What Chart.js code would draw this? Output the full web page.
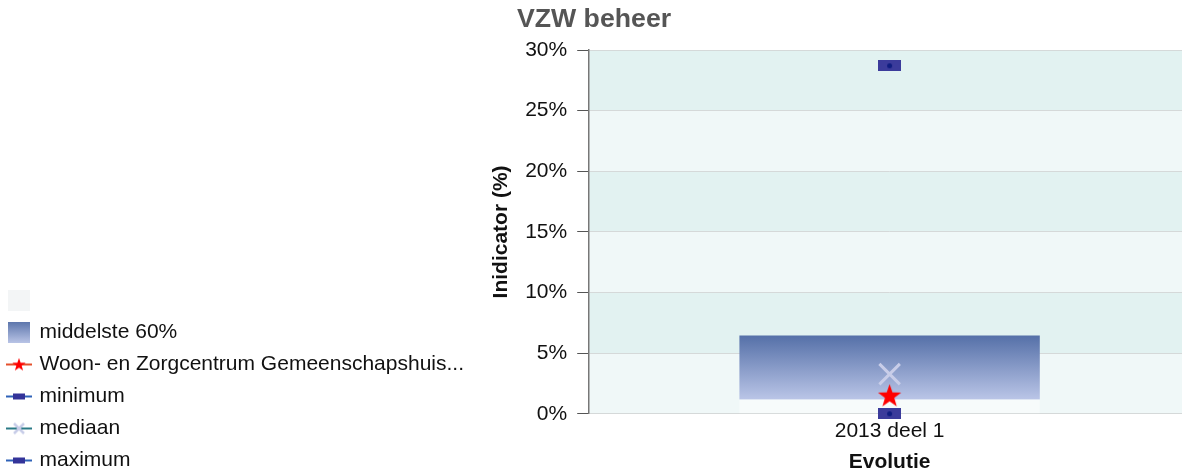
<!DOCTYPE html>
<html><head><meta charset="utf-8">
<script src="https://cdn.jsdelivr.net/npm/chart.js@4.4.1/dist/chart.umd.min.js"></script>
<style>html,body{margin:0;padding:0;overflow:hidden;background:#fff}#c{display:block}</style>
</head><body><canvas id="c" width="1190" height="470"></canvas>
<script>
const chartTitle = 'VZW beheer';
const categories = ['2013 deel 1'];
const baseRange = [[0, 1.18]];
const middle60 = [[1.18, 6.45]];
const facility = [1.5];
const minimum = [0];
const median = [3.27];
const maximum = [28.7];
const seriesNames = ['', 'middelste 60%', 'Woon- en Zorgcentrum Gemeenschapshuis...', 'minimum', 'mediaan', 'maximum'];
const yTickStep = 5, yMin = 0, yMax = 30;

Chart.defaults.font.family = "'Liberation Sans', Arial, sans-serif";

function makeCanvas(w, h, draw) { const c = document.createElement('canvas'); c.width = w; c.height = h; draw(c.getContext('2d'), w, h); return c; }
function starPath(ctx, cx, cy, R, r) { ctx.beginPath(); for (let i = 0; i < 10; i++) { const a = -Math.PI / 2 + i * Math.PI / 5; const rad = i % 2 ? r : R; ctx.lineTo(cx + rad * Math.cos(a), cy + rad * Math.sin(a)); } ctx.closePath(); }

const rectImg = makeCanvas(23, 11, (c, w, h) => { c.fillStyle = '#3b3b9b'; c.fillRect(0, 0, w, h); c.fillStyle = '#0f1d80'; c.beginPath(); c.arc(w / 2, h / 2, 2.5, 0, Math.PI * 2); c.fill(); });
const starImg = makeCanvas(25, 24, (c) => { c.fillStyle = '#ff0000'; starPath(c, 12.5, 12.8, 12.2, 4.9); c.fill(); });

const legBase = makeCanvas(22, 21, (c, w, h) => { c.fillStyle = '#f3f5f6'; c.fillRect(0, 0, w, h); });
const legMid = makeCanvas(22, 21, (c, w, h) => { const g = c.createLinearGradient(0, 0, 0, h); g.addColorStop(0, '#5d76ac'); g.addColorStop(1, '#b9c4e6'); c.fillStyle = g; c.fillRect(0, 0, w, h); });
const legStar = makeCanvas(26, 14, (c, w, h) => { c.strokeStyle = '#e4502c'; c.lineWidth = 2; c.beginPath(); c.moveTo(0, 7); c.lineTo(w, 7); c.stroke(); c.fillStyle = '#ff0000'; starPath(c, 13, 7.4, 7, 2.8); c.fill(); });
const legRect = makeCanvas(26, 10, (c, w, h) => { c.strokeStyle = '#2f62b8'; c.lineWidth = 2; c.beginPath(); c.moveTo(0, 5); c.lineTo(w, 5); c.stroke(); c.fillStyle = '#333399'; c.fillRect(7, 2, 12, 6); });
const legMed = makeCanvas(26, 14, (c, w, h) => { c.strokeStyle = '#2b7a86'; c.lineWidth = 2; c.beginPath(); c.moveTo(0, 7); c.lineTo(w, 7); c.stroke(); c.strokeStyle = '#c8cde8'; c.lineWidth = 2.5; c.beginPath(); c.moveTo(8, 2); c.lineTo(18, 12); c.moveTo(18, 2); c.lineTo(8, 12); c.stroke(); });
const legendImgs = [legBase, legMid, legStar, legRect, legMed, legRect];

const bandsPlugin = {
  id: 'bands',
  beforeDraw(chart) {
    const { ctx, chartArea: a, scales: { y } } = chart;
    ctx.save();
    ctx.fillStyle = '#ffffff';
    ctx.fillRect(0, 0, chart.width, chart.height);
    for (let v = yMin, i = 0; v < yMax; v += yTickStep, i++) {
      const top = y.getPixelForValue(v + yTickStep), bot = y.getPixelForValue(v);
      ctx.fillStyle = i % 2 === 0 ? '#f0f8f8' : '#e2f2f1';
      ctx.fillRect(a.left, top, a.right - a.left, bot - top);
    }
    ctx.restore();
  }
};

new Chart(document.getElementById('c'), {
  type: 'bar',
  data: {
    labels: categories,
    datasets: [
      { label: seriesNames[0], data: baseRange, backgroundColor: 'rgba(255,255,255,0.45)', borderWidth: 0, grouped: false, order: 10, barPercentage: 0.5, categoryPercentage: 1 },
      { label: seriesNames[1], data: middle60, grouped: false, order: 10, barPercentage: 0.5, categoryPercentage: 1, borderWidth: 0,
        backgroundColor: (ctx) => {
          const chart = ctx.chart, y = chart.scales.y;
          if (!y || !chart.chartArea || !ctx.raw) return '#8fa0cc';
          const top = y.getPixelForValue(ctx.raw[1]), bot = y.getPixelForValue(ctx.raw[0]);
          const g = chart.ctx.createLinearGradient(0, top, 0, bot);
          g.addColorStop(0, '#5570a8'); g.addColorStop(1, '#bac5e7'); return g;
        } },
      { type: 'line', label: seriesNames[2], data: facility, showLine: false, clip: false, pointStyle: starImg, pointRadius: 12, order: 1 },
      { type: 'line', label: seriesNames[3], data: minimum, showLine: false, clip: false, pointStyle: rectImg, pointRadius: 11, order: 2 },
      { type: 'line', label: seriesNames[4], data: median, showLine: false, clip: false, pointStyle: 'crossRot', pointRadius: 14.5, borderWidth: 3, borderColor: '#c8cde8', backgroundColor: '#c8cde8', order: 3 },
      { type: 'line', label: seriesNames[5], data: maximum, showLine: false, clip: false, pointStyle: rectImg, pointRadius: 11, order: 2 }
    ]
  },
  options: {
    responsive: false, animation: false,
    layout: { autoPadding: false, padding: { left: -2, bottom: -12, top: 0, right: 0 } },
    plugins: {
      title: { display: true, text: chartTitle, color: '#555', font: { size: 26.7, weight: 'bold' }, padding: { top: 4, bottom: 14 } },
      tooltip: { enabled: false },
      legend: {
        position: 'left', align: 'end', onClick: null, maxWidth: 520,
        labels: {
          usePointStyle: true, pointStyleWidth: 20, boxHeight: 21, padding: 11, color: '#111', font: { size: 21 },
          generateLabels: (chart) => seriesNames.map((n, i) => ({ text: n, pointStyle: legendImgs[i], fillStyle: 'transparent', strokeStyle: 'transparent', lineWidth: 0, hidden: false, datasetIndex: i, fontColor: '#111' }))
        }
      }
    },
    scales: {
      x: {
        offset: true,
        grid: { display: false, drawTicks: false, tickLength: 0 }, border: { display: false },
        ticks: { color: '#111', font: { size: 21 }, padding: 5 },
        title: { display: true, text: 'Evolutie', color: '#111', font: { size: 21, weight: 'bold', lineHeight: 1 }, padding: { top: 3, bottom: 9 } }
      },
      y: {
        min: yMin, max: yMax,
        grid: { color: '#d5d9d9', tickColor: '#555', tickLength: 12, lineWidth: 1 },
        border: { color: '#777', width: 1.5 },
        ticks: { stepSize: yTickStep, color: '#111', font: { size: 21 }, padding: 10, callback: (v) => v + '%' },
        title: { display: true, text: 'Inidicator (%)', color: '#111', font: { size: 21, weight: 'bold' }, padding: { top: 15, bottom: 1 } }
      }
    }
  },
  plugins: [bandsPlugin]
});
</script></body></html>
